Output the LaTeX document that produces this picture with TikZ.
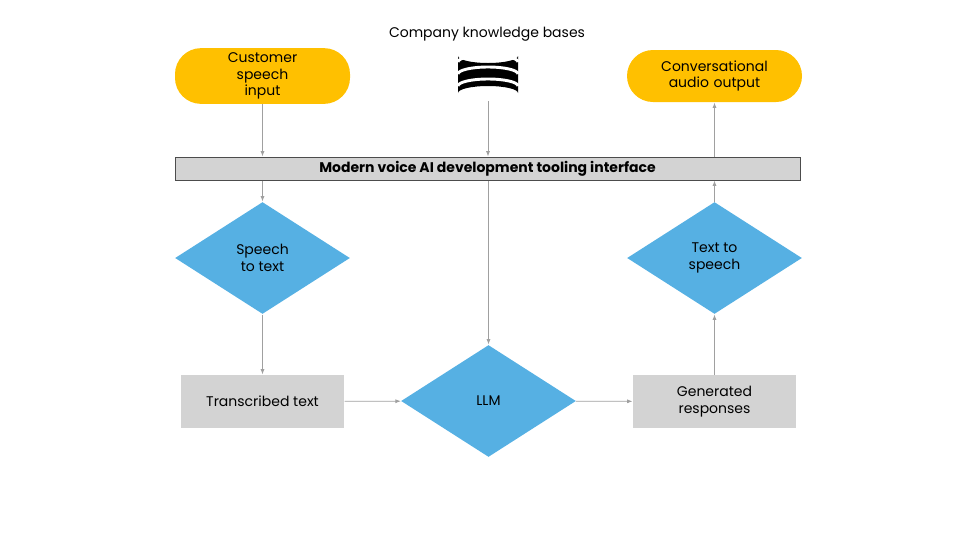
\documentclass[tikz,border=0pt]{standalone}
\usepackage{fontspec}
\setmainfont{Poppins}
\usetikzlibrary{shapes.geometric,arrows.meta}
\definecolor{pillyellow}{RGB}{255,192,0}
\definecolor{stepblue}{RGB}{86,176,227}
\definecolor{boxgray}{RGB}{211,211,211}
\definecolor{linkgray}{RGB}{160,160,160}
\tikzset{every picture/.style={line width=0.75pt}}
\tikzset{
  pill/.style={rounded corners=26*0.75pt, fill=pillyellow, minimum width=175*0.75pt, minimum height=52*0.75pt, align=center, font=\fontsize{10.5}{12.5}\selectfont, text width=120*0.75pt},
  phase/.style={diamond, aspect=1.56, fill=stepblue, inner sep=0pt, minimum width=175*0.75pt, minimum height=112*0.75pt, align=center, font=\fontsize{10.5}{12.5}\selectfont},
  datum/.style={fill=boxgray, minimum width=163*0.75pt, minimum height=53*0.75pt, align=center, font=\fontsize{10.5}{12.5}\selectfont},
  link/.style={draw=linkgray, line width=0.6pt, -{Latex[length=4pt,width=3pt]}}
}
\begin{document}
\begin{tikzpicture}[x=0.75pt,y=0.75pt,yscale=-1]
  \useasboundingbox (0,0) rectangle (960,540);
  % sources and sinks
  \node [pill] (in) at (262.5,76) {Customer speech\\input};
  \node [pill] (out) at (714.5,76) {Conversational\\audio output};
  \node [font=\fontsize{10.5}{12.5}\selectfont] (kbl) at (487,34) {Company knowledge bases};
  % database icon
  \node [minimum width=45, minimum height=39, inner sep=0pt] (db) at (488,74.5) {};
  \fill (458,56) -- (458,93) arc [start angle=180, end angle=360, x radius=30, y radius=7] -- (518,56) arc [start angle=0, end angle=180, x radius=30, y radius=7] -- cycle;
  \foreach \yy in {62,74,86}
    \draw [white, line width=2.2] (458,\yy) arc [start angle=180, end angle=360, x radius=30, y radius=7];
  % interface bar
  \node [draw=black!70, fill=boxgray, minimum width=625*0.75pt, minimum height=23*0.75pt, inner sep=0pt, font=\bfseries\fontsize{10.5}{12.5}\selectfont] (bar) at (487.5,168.5) {Modern voice AI development tooling interface};
  % pipeline
  \node [phase] (stt) at (262.5,258) {Speech\\to text};
  \node [phase] (tts) at (714.5,258) {Text to\\speech};
  \node [datum] (tr) at (262.5,401.5) {Transcribed text};
  \node [phase] (llm) at (488.5,401) {LLM};
  \node [datum] (gen) at (714.5,401.5) {Generated\\responses};
  % links
  \draw [link] (in) -- (in |- bar.north);
  \draw [link] (stt |- bar.south) -- (stt);
  \draw [link] (stt) -- (tr);
  \draw [link] (tr) -- (llm);
  \draw [link] (llm) -- (gen);
  \draw [link] (gen) -- (tts);
  \draw [link] (tts) -- (tts |- bar.south);
  \draw [link] (out |- bar.north) -- (out);
  \draw [link] (db) -- (db |- bar.north);
  \draw [link] (llm |- bar.south) -- (llm);
\end{tikzpicture}
\end{document}
